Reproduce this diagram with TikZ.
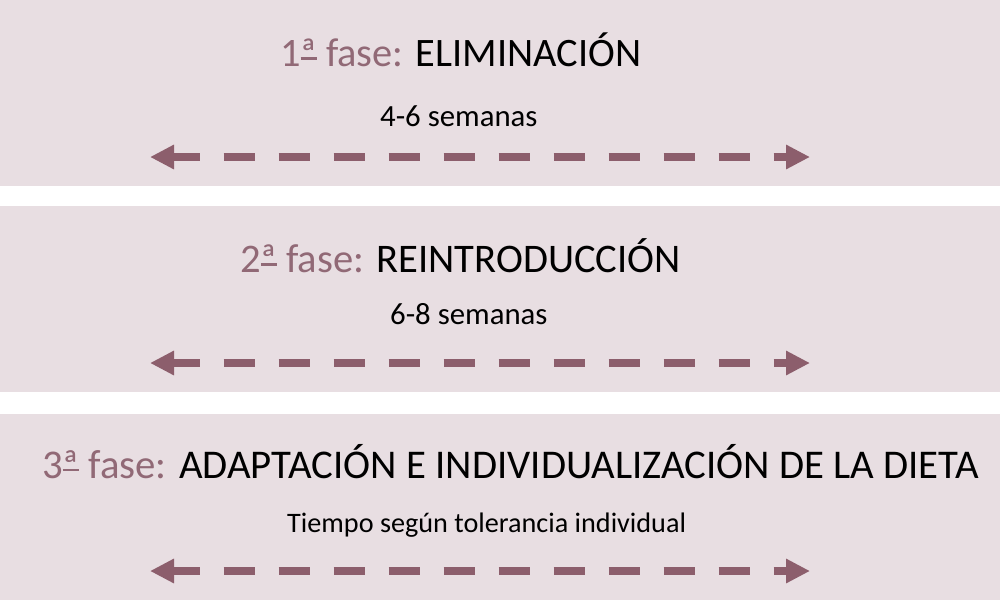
\documentclass[tikz,border=0pt]{standalone}
\usepackage{fontspec}
\setmainfont{Carlito}
\usetikzlibrary{arrows.meta}
\definecolor{bandbg}{RGB}{232,222,226}
\definecolor{mauve}{RGB}{145,105,118}
\definecolor{arrowc}{RGB}{140,94,108}
\newlength\ordw
\newcommand\ordA{\settowidth\ordw{ª}\rlap{\rule[0.16em]{\ordw}{0.055em}}ª}
\tikzset{
  x=1pt,y=-1pt,
  band/.style={fill=bandbg,draw=none},
  titletext/.style={anchor=base west,inner sep=0pt},
  subtext/.style={anchor=base west,inner sep=0pt},
  phasearrow/.style={draw=arrowc,line width=8pt,dash pattern=on 31pt off 24pt,dash phase=4pt,
    {Triangle[length=24pt,width=23pt]}-{Triangle[length=24pt,width=23pt]}}
}
\begin{document}
\begin{tikzpicture}
\useasboundingbox (0,0) rectangle (1000,600);
\fill[white] (0,0) rectangle (1000,600);
\path[band] (0,0) rectangle (1000,186);
\path[band] (0,206) rectangle (1000,392);
\path[band] (0,414) rectangle (1000,600);

\node[titletext,font=\fontsize{40.4}{48}\selectfont] (t1) at (280,66) {\textcolor{mauve}{1\ordA{} fase:} ELIMINACIÓN};
\node[subtext,font=\fontsize{30.8}{36}\selectfont] (s1) at (380,126) {4-6 semanas};
\coordinate (a1l) at (150,157);
\coordinate (a1r) at (810,157);
\draw[phasearrow] (a1l) -- (a1r);

\node[titletext,font=\fontsize{40.6}{48}\selectfont] (t2) at (240,272) {\textcolor{mauve}{2\ordA{} fase:} REINTRODUCCIÓN};
\node[subtext,font=\fontsize{30.8}{36}\selectfont] (s2) at (390,324) {6-8 semanas};
\coordinate (a2l) at (150,363);
\coordinate (a2r) at (810,363);
\draw[phasearrow] (a2l) -- (a2r);

\node[titletext,font=\fontsize{40.8}{48}\selectfont] (t3) at (42,478) {\textcolor{mauve}{3\ordA{} fase:} ADAPTACIÓN E INDIVIDUALIZACIÓN DE LA DIETA};
\node[subtext,font=\fontsize{28.2}{34}\selectfont] (s3) at (287,532) {Tiempo según tolerancia individual};
\coordinate (a3l) at (150,571);
\coordinate (a3r) at (810,571);
\draw[phasearrow] (a3l) -- (a3r);
\end{tikzpicture}
\end{document}
